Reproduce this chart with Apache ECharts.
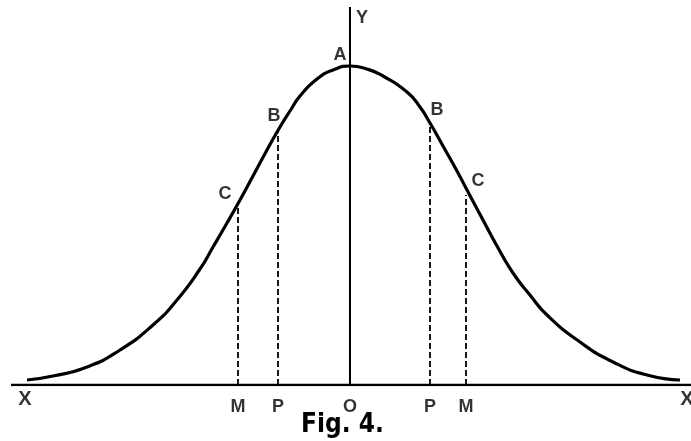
<!DOCTYPE html>
<html>
<head>
<meta charset="utf-8">
<script src="https://cdn.jsdelivr.net/npm/echarts@6/dist/echarts.min.js"></script>
<style>
html, body { margin: 0; padding: 0; background: #fff; }
#main { width: 691px; height: 441px; }
</style>
</head>
<body>
<div id="main"></div>
<script>
// curve (x from O, height above XX)
var curveX = [-323, -297, -263, -230, -197, -173, -150, -137, -123, -110, -97, -83, -70, -60, -50, -33, -17, 0, 17, 33, 57, 70, 80, 93, 107, 117, 133, 147, 163, 180, 197, 230, 263, 297, 330];
var curveY = [5, 9, 18, 35, 60, 85, 116, 138, 162, 185, 209, 235, 258, 274, 289, 306, 315, 319, 316, 309, 293, 278, 262, 239, 214, 195, 165, 139, 112, 90, 70, 43, 23, 10, 5];

// ordinates MC, PB, PB, MC
var guideX = [-112, -72, 80, 116];
var guideY = [178, 254, 259, 190];
var footLabels = ['M', 'P', 'P', 'M'];
var topLabels = ['C', 'B', 'B', 'C'];

var peakLabel = 'A';
var originLabel = 'O';
var axisXEnds = [-339, 341];
var axisYTop = 378;
var axisNames = ['X', 'Y'];
var figTitle = 'Fig. 4.';

var font = "'Liberation Sans', 'DejaVu Sans', sans-serif";

function bulidCurve() {
	var pts = [];
	for (var i = 0; i < curveX.length; i++) {
		pts.push([curveX[i], curveY[i]]);
	}
	return pts;
}

function bulidGuides() {
	var lines = [];
	for (var i = 0; i < guideX.length; i++) {
		lines.push([{ coord: [guideX[i], 0] }, { coord: [guideX[i], guideY[i]] }]);
	}
	return lines;
}

function letter(x, y, text, pos, offset, size) {
	return {
		value: [x, y],
		label: {
			show: true,
			formatter: text,
			position: pos,
			offset: offset || [0, 0],
			fontFamily: font,
			fontWeight: 'bold',
			fontSize: size || 18,
			color: '#000'
		}
	};
}

function bulidLetters() {
	var d = [];
	// letters on the curve
	var offs = [[-13, 1], [-4, -1], [7, -2], [12, 0]];
	for (var i = 0; i < guideX.length; i++) {
		d.push(letter(guideX[i], guideY[i], topLabels[i], 'top', offs[i]));
		d.push(letter(guideX[i], 0, footLabels[i], 'bottom', [0, 8]));
	}
	d.push(letter(0, curveY[curveX.indexOf(0)], peakLabel, 'top', [-10, 3]));
	d.push(letter(0, 0, originLabel, 'bottom', [0, 8]));
	d.push(letter(axisXEnds[0], 0, axisNames[0], 'bottom', [14, -1], 20));
	d.push(letter(axisXEnds[1], 0, axisNames[0], 'bottom', [-4, -1], 20));
	d.push(letter(0, axisYTop, axisNames[1], 'bottom', [12, -3]));
	return d;
}

var chart = echarts.init(document.getElementById('main'));
var option = {
	animation: false,
	backgroundColor: '#fff',
	title: {
		text: figTitle,
		left: 296,
		top: 407,
		textStyle: {
			fontFamily: "'Liberation Sans Narrow', 'DejaVu Sans Condensed', sans-serif",
			fontWeight: 'bold',
			fontSize: 26,
			color: '#000'
		}
	},
	grid: { left: 0, right: 0, top: 0, bottom: 56 },
	xAxis: { type: 'value', min: -350, max: 341, show: false },
	yAxis: { type: 'value', min: 0, max: 385, show: false },
	series: [
		{
			type: 'line',
			data: [[axisXEnds[0], 0], [axisXEnds[1], 0]],
			symbol: 'none',
			lineStyle: { color: '#000', width: 2.5 }
		},
		{
			type: 'line',
			data: [[0, 0], [0, axisYTop]],
			symbol: 'none',
			lineStyle: { color: '#000', width: 2 }
		},
		{
			type: 'line',
			data: bulidCurve(),
			smooth: 0.55,
			symbol: 'none',
			lineStyle: { color: '#000', width: 3.2 },
			markLine: {
				silent: true,
				symbol: 'none',
				label: { show: false },
				lineStyle: { color: '#000', width: 1.8, type: [6, 3] },
				data: bulidGuides()
			}
		},
		{
			type: 'scatter',
			symbolSize: 0,
			data: bulidLetters()
		}
	]
};
chart.setOption(option);
</script>
</body>
</html>
